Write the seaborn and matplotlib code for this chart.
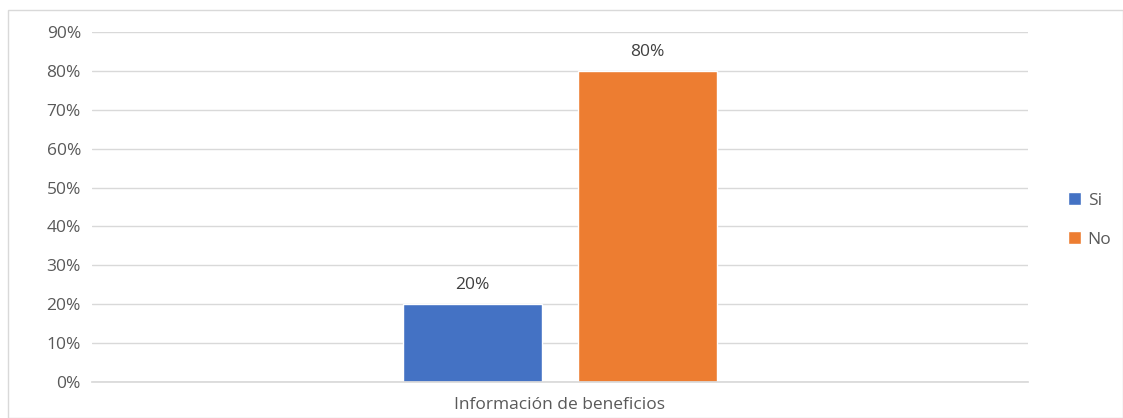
import matplotlib
matplotlib.use("Agg")
import matplotlib.pyplot as plt
import seaborn as sns
import pandas as pd
from matplotlib.patches import Rectangle, Patch

categories = ["Información de beneficios"]
series = ["Si", "No"]
values = [0.20, 0.80]
yticks = [0, 0.1, 0.2, 0.3, 0.4, 0.5, 0.6, 0.7, 0.8, 0.9]
ytick_labels = ["0%", "10%", "20%", "30%", "40%", "50%", "60%", "70%", "80%", "90%"]
colors = ["#4472C4", "#ED7D31"]

df = pd.DataFrame({"cat": categories * len(series), "serie": series, "val": values})

sns.set_theme(style="white")
plt.rcParams["font.family"] = ["Open Sans", "DejaVu Sans"]
txt = "#595959"
fs = 12.5

fig = plt.figure(figsize=(11.23, 4.18), dpi=100)
ax = fig.add_axes([92/1123, 36/418, 936/1123, 350/418])

sns.barplot(data=df, x="cat", y="val", hue="serie", palette=colors, width=0.374,
            gap=0.206, ax=ax, legend=False, saturation=1)

ax.set_xlim(-0.5, 0.5)
ax.set_ylim(0, 0.9)
ax.set_yticks(yticks)
ax.set_yticklabels(ytick_labels, color=txt, fontsize=fs)
ax.tick_params(axis="y", length=0, pad=8)
ax.tick_params(axis="x", length=0, pad=11, labelsize=fs, labelcolor=txt)
ax.yaxis.grid(True, color="#D9D9D9", linewidth=1)
ax.set_axisbelow(True)
for s in ["top", "right", "left"]:
    ax.spines[s].set_visible(False)
ax.spines["bottom"].set_color("#D9D9D9")
ax.set_xlabel("")
ax.set_ylabel("")

for cont, v in zip(ax.containers, values):
    ax.bar_label(cont, labels=[f"{round(v*100)}%"], padding=8, color="#404040", fontsize=fs)

handles = [Patch(facecolor=c, label=s) for c, s in zip(colors, series)]
leg = fig.legend(handles=handles, loc="center left", bbox_to_anchor=(1052/1123, 1 - 220/418),
                 frameon=False, fontsize=fs, handlelength=0.75, handleheight=0.75,
                 handletextpad=0.4, labelspacing=1.3, labelcolor=txt)

fig.patches.append(Rectangle((8/1123, 0), 1 - 8/1123 - 0.5/1123, 1 - 10/418,
                             transform=fig.transFigure, fill=False,
                             edgecolor="#D9D9D9", linewidth=1))

fig.savefig("out.png", dpi=100)
